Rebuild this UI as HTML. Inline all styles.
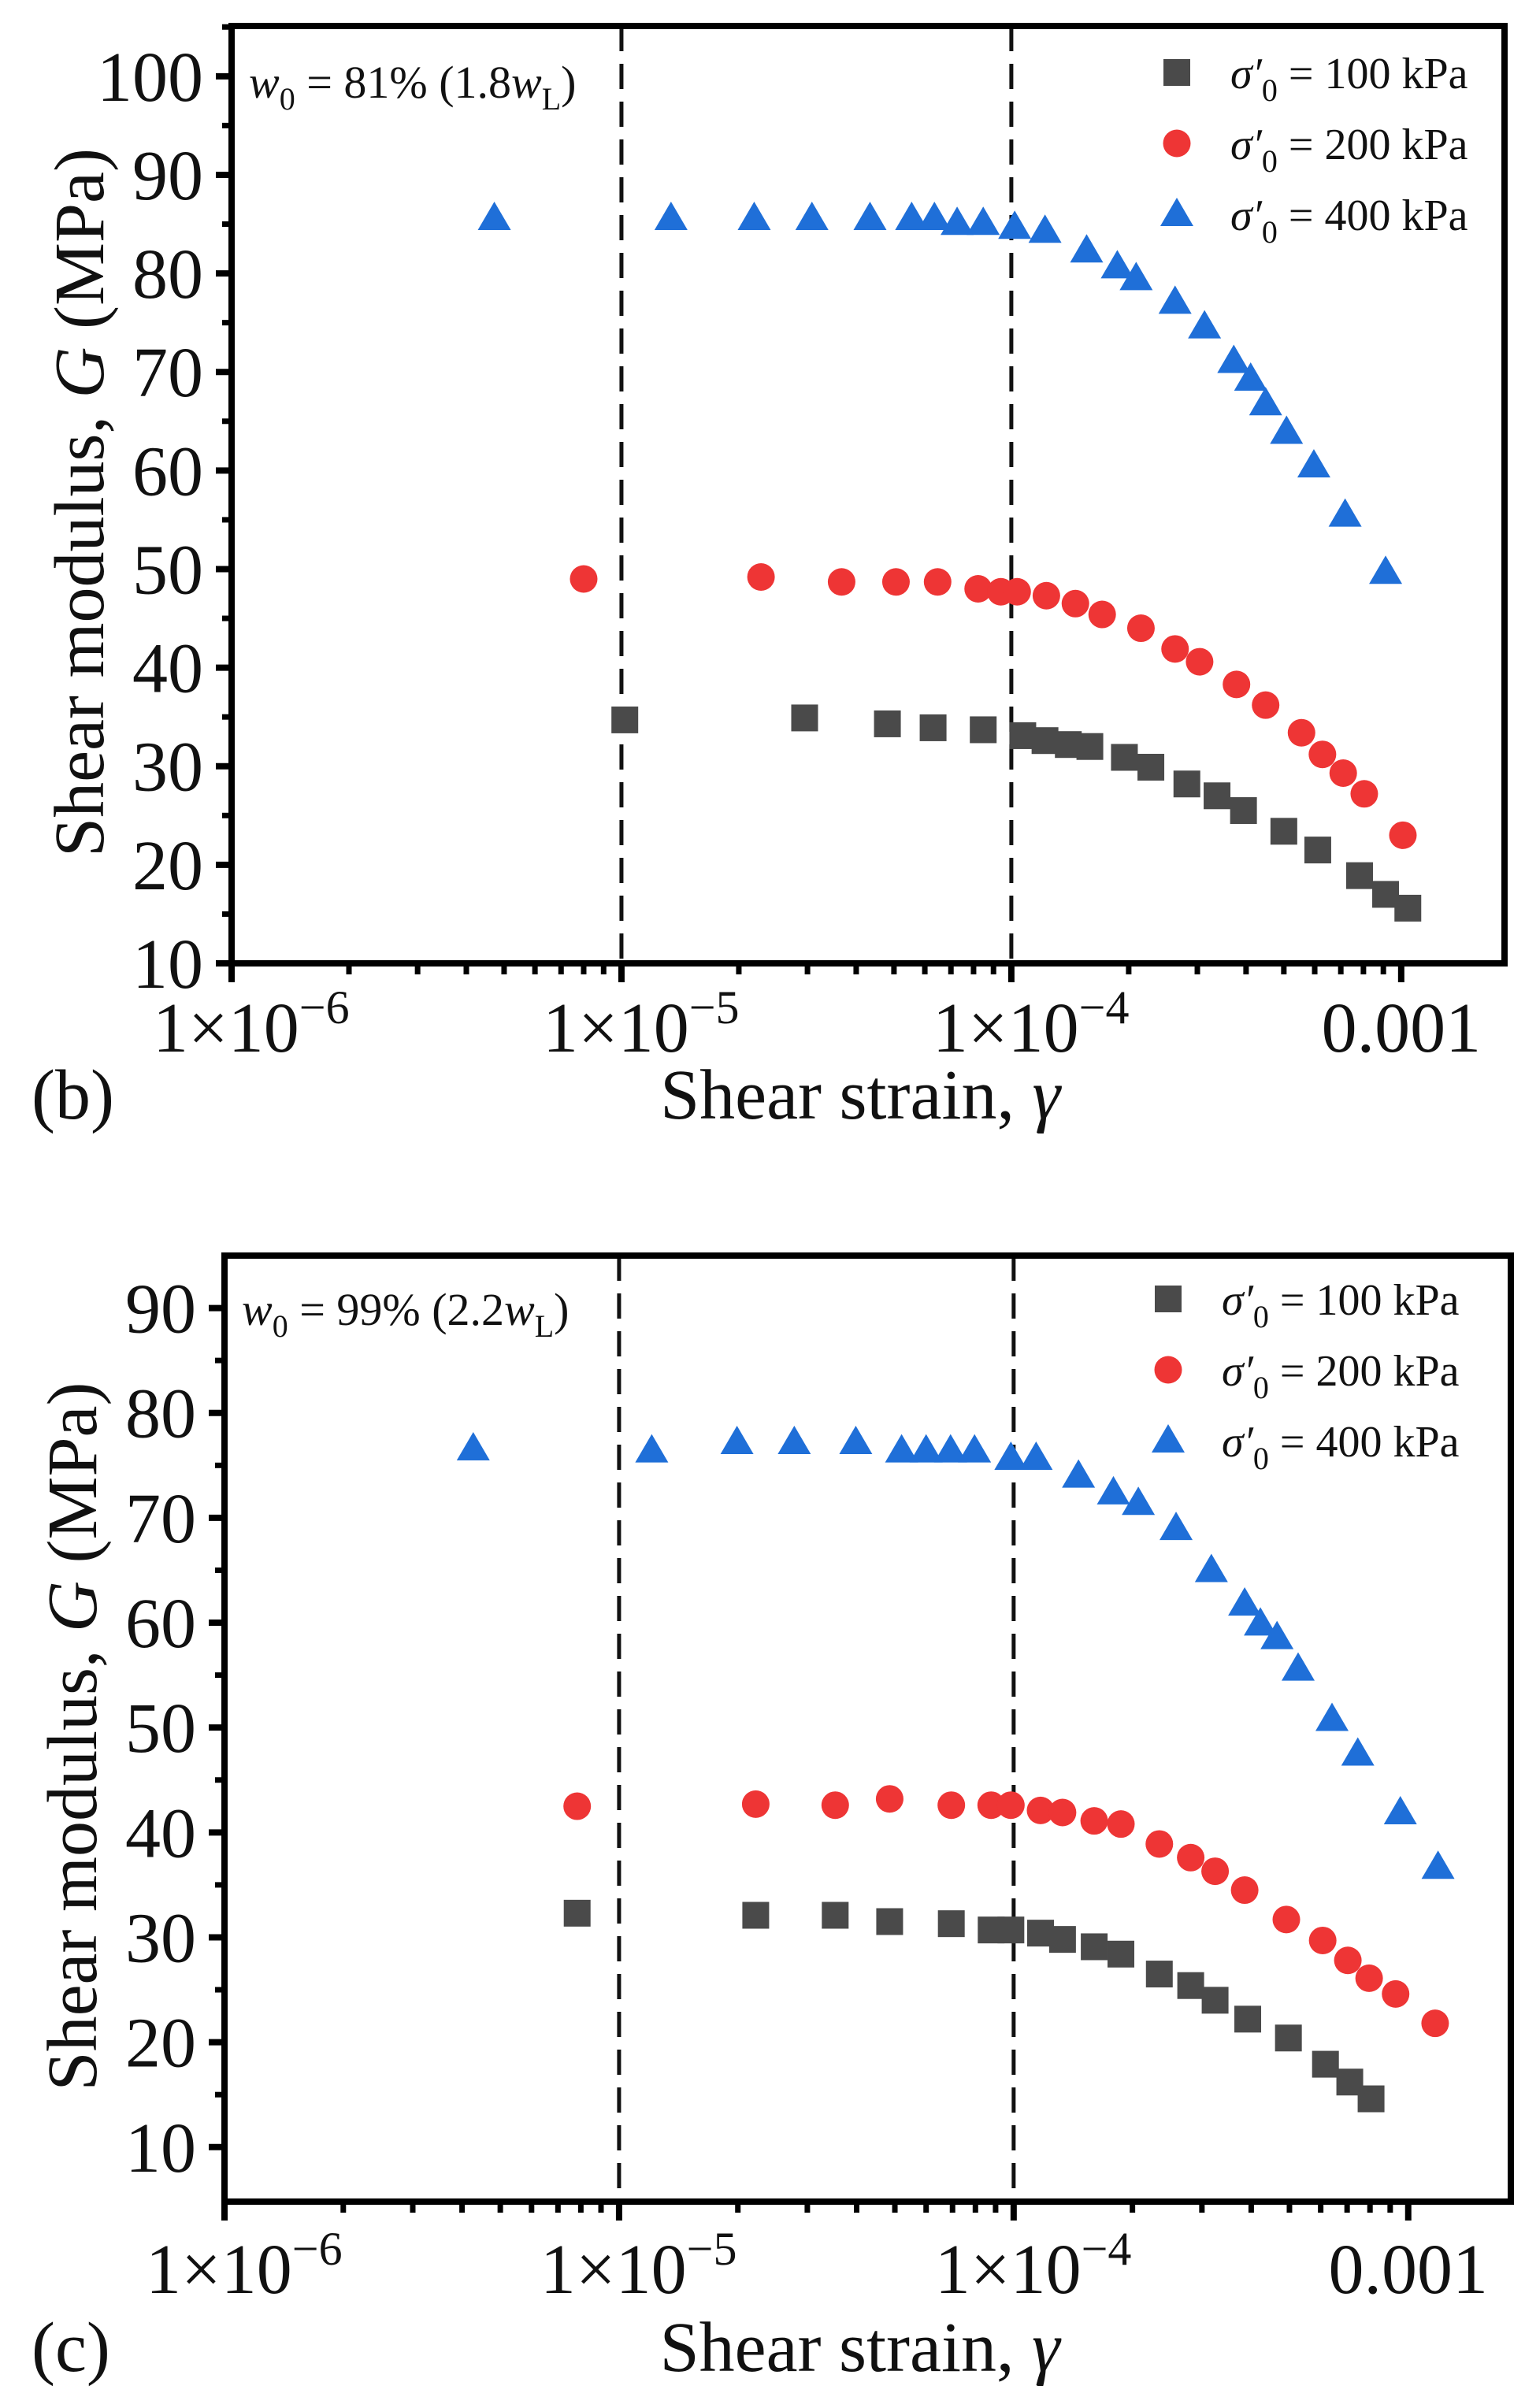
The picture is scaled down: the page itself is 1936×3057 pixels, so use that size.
<!DOCTYPE html>
<html><head><meta charset="utf-8"><style>
html,body{margin:0;padding:0;background:#fff;}
svg{display:block;font-family:"Liberation Serif","Times New Roman",serif;}
</style></head><body>
<svg id="fig" width="1936" height="3057" viewBox="0 0 1936 3057"></svg>
<script>
// ---- Panel (b) data ----
const bBlueX=[4.72e-6,1.34e-5,2.19e-5,3.08e-5,4.34e-5,5.55e-5,6.35e-5,7.26e-5,8.47e-5,1.02e-4,1.22e-4,1.56e-4,1.87e-4,2.09e-4,2.63e-4,3.13e-4,3.72e-4,4.11e-4,4.49e-4,5.08e-4,5.97e-4,7.18e-4,9.12e-4];
const bBlueY=[85.6,85.6,85.6,85.6,85.6,85.6,85.6,85.1,85.1,84.7,84.3,82.3,80.7,79.5,77.1,74.6,71.1,69.3,66.8,63.9,60.5,55.5,49.7];
const bRedX=[8.0e-6,2.28e-5,3.67e-5,5.06e-5,6.47e-5,8.22e-5,9.4e-5,1.035e-4,1.23e-4,1.46e-4,1.71e-4,2.15e-4,2.63e-4,3.04e-4,3.78e-4,4.49e-4,5.55e-4,6.28e-4,7.10e-4,8.04e-4,1.01e-3];
const bRedY=[49.0,49.2,48.7,48.7,48.7,48.0,47.7,47.7,47.3,46.5,45.4,44.0,41.9,40.6,38.3,36.2,33.4,31.2,29.3,27.2,23.0];
const bBlackX=[1.02e-5,2.95e-5,4.81e-5,6.30e-5,8.47e-5,1.07e-4,1.22e-4,1.40e-4,1.59e-4,1.95e-4,2.28e-4,2.82e-4,3.37e-4,3.94e-4,5.0e-4,6.11e-4,7.82e-4,9.12e-4,1.04e-3];
const bBlackY=[34.7,34.9,34.3,33.9,33.7,33.1,32.6,32.2,32.0,30.9,29.9,28.2,27.0,25.5,23.4,21.5,18.9,17.0,15.6];
// ---- Panel (c) data ----
const cBlueX=[4.27e-6,1.21e-5,1.99e-5,2.78e-5,3.98e-5,5.20e-5,6.0e-5,6.92e-5,7.96e-5,9.84e-5,1.14e-4,1.46e-4,1.79e-4,2.07e-4,2.58e-4,3.17e-4,3.85e-4,4.22e-4,4.65e-4,5.26e-4,6.41e-4,7.45e-4,9.55e-4,1.19e-3];
const cBlueY=[76.6,76.4,77.2,77.2,77.2,76.4,76.4,76.4,76.4,75.7,75.7,74.0,72.4,71.4,69.0,65.0,61.8,59.9,58.6,55.6,50.8,47.5,41.9,36.7];
const cRedX=[7.83e-6,2.22e-5,3.53e-5,4.85e-5,6.95e-5,8.77e-5,9.84e-5,1.17e-4,1.33e-4,1.60e-4,1.87e-4,2.34e-4,2.81e-4,3.24e-4,3.85e-4,4.91e-4,6.07e-4,7.03e-4,7.96e-4,9.29e-4,1.17e-3];
const cRedY=[42.5,42.7,42.6,43.2,42.6,42.6,42.6,42.1,41.9,41.1,40.8,38.9,37.6,36.3,34.5,31.7,29.7,27.8,26.1,24.6,21.8];
const cBlackX=[7.83e-6,2.22e-5,3.53e-5,4.85e-5,6.95e-5,8.77e-5,9.84e-5,1.17e-4,1.33e-4,1.60e-4,1.87e-4,2.34e-4,2.81e-4,3.24e-4,3.92e-4,4.97e-4,6.17e-4,7.11e-4,8.05e-4];
const cBlackY=[32.3,32.1,32.1,31.5,31.3,30.7,30.7,30.4,29.8,29.1,28.4,26.5,25.4,24.0,22.2,20.4,17.9,16.2,14.6];
const xTickVals=[1e-6,1e-5,1e-4,1e-3];
const xTickLabels=["1×10","1×10","1×10","0.001"];
const xTickSups=["−6","−5","−4",""];
const bYTicks=[10,20,30,40,50,60,70,80,90,100];
const cYTicks=[10,20,30,40,50,60,70,80,90];
const legendLabels=["100","200","400"];
const dashedAt=[1e-5,1e-4];

const NS="http://www.w3.org/2000/svg";
const svg=document.getElementById('fig');
function mk(tag,attrs,parent){const e=document.createElementNS(NS,tag);for(const k in attrs)e.setAttribute(k,attrs[k]);(parent||svg).appendChild(e);return e;}
const COL={black:"#4a4a4a",red:"#ee3535",blue:"#1f6fd8"};

function marker(g,type,cx,cy){
  let e;
  if(type==="black"){e=mk('rect',{x:cx-17,y:cy-17,width:34,height:34,fill:COL.black},g);}
  else if(type==="red"){e=mk('circle',{cx:cx,cy:cy,r:17.5,fill:COL.red},g);}
  else {e=mk('polygon',{points:`${cx},${cy-21} ${cx+21},${cy+15} ${cx-21},${cy+15}`,fill:COL.blue},g);}
  return e;
}

function panel(p){
  const g=mk('g',{});
  
  
  const lx0=Math.log10(p.xmin),lx1=Math.log10(p.xmax);
  const X=v=>p.L+(Math.log10(v)-lx0)/(lx1-lx0)*(p.R-p.L);
  const Y=v=>p.B-(v-p.ymin)/(p.ymax-p.ymin)*(p.B-p.T);
  dashedAt.forEach((d,i)=>{const l=mk('line',{x1:X(d),x2:X(d),y1:p.T,y2:p.B,stroke:"#111","stroke-width":5,"stroke-dasharray":"32 16"},g);
    
    });
  p.yTicks.forEach(t=>{const y=Y(t);
    mk('line',{x1:p.L-20,x2:p.L,y1:y,y2:y,stroke:"#000","stroke-width":8},g);
    const tx=mk('text',{x:p.L-36,y:y+31,"font-size":90,"text-anchor":"end",fill:"#111"},g);tx.textContent=t;
    
    
    const m=t+5; if(m<p.ymax) {const ym=Y(m);mk('line',{x1:p.L-12,x2:p.L,y1:ym,y2:ym,stroke:"#000","stroke-width":7},g);}
  });
  for(let e=-6;e<=-3;e++){
    for(let k=2;k<=9;k++){const v=k*Math.pow(10,e);if(v<p.xmax){const x=X(v);mk('line',{x1:x,x2:x,y1:p.B,y2:p.B+14,stroke:"#000","stroke-width":7},g);}}
  }
  xTickVals.forEach((v,i)=>{const x=X(v);
    mk('line',{x1:x,x2:x,y1:p.B,y2:p.B+24,stroke:"#000","stroke-width":8},g);
    const tx=mk('text',{x:xTickSups[i]?x-100:x,y:p.B+p.xlabOff,"font-size":90,"text-anchor":xTickSups[i]?"start":"middle",fill:"#111"},g);
    tx.textContent=xTickLabels[i];
    if(xTickSups[i]){const s=mk('tspan',{dy:-36,"font-size":60},tx);s.textContent=xTickSups[i];}
    
    
  });
  const fr=mk('rect',{x:p.L,y:p.T,width:p.R-p.L,height:p.B-p.T,fill:"none",stroke:"#000","stroke-width":8},g);
  
  
  [["black",p.kx,p.ky],["red",p.rx,p.ry],["blue",p.bx,p.by]].forEach(([t,xs,ys])=>{
    const sg=mk('g',{},g);
    
    
    xs.forEach((v,i)=>{const m=marker(sg,t,X(v),Y(ys[i]));
      
      });
  });
  const lg=mk('g',{},g);
  
  
  ["black","red","blue"].forEach((t,i)=>{const yy=p.legY+i*90;
    marker(lg,t,p.legX,yy);
    const tx=mk('text',{x:p.legX+68,y:yy+20,"font-size":56,fill:"#111"},lg);
    const s1=mk('tspan',{"font-style":"italic"},tx);s1.textContent="σ′";
    const s2=mk('tspan',{dy:16,"font-size":40},tx);s2.textContent="0";
    const s3=mk('tspan',{dy:-16},tx);s3.textContent=" = "+legendLabels[i]+" kPa";
    
    
  });
  const an=mk('text',{x:p.L+22,y:p.annY,"font-size":58,fill:"#111"},g);
  
  
  let s=mk('tspan',{"font-style":"italic"},an);s.textContent="w";
  s=mk('tspan',{dy:15,"font-size":40},an);s.textContent="0";
  s=mk('tspan',{dy:-15},an);s.textContent=" = "+p.ann+" ("+p.ann2;
  s=mk('tspan',{"font-style":"italic"},an);s.textContent="w";
  s=mk('tspan',{dy:15,"font-size":40},an);s.textContent="L";
  s=mk('tspan',{dy:-15},an);s.textContent=")";
  const xt=mk('text',{x:(p.L+p.R)/2-10,y:p.B+p.xtitOff,"font-size":90,"text-anchor":"middle",fill:"#111"},g);
  
  
  xt.textContent="Shear strain, ";s=mk('tspan',{"font-style":"italic"},xt);s.textContent="γ";
  const cy=(p.T+p.B)/2+10;
  const yt=mk('text',{x:0,y:0,"font-size":90,"text-anchor":"middle",fill:"#111",transform:`translate(${p.L-163},${cy}) rotate(-90)`},g);
  
  
  yt.appendChild(document.createTextNode("Shear modulus, "));s=mk('tspan',{"font-style":"italic"},yt);s.textContent="G";
  yt.appendChild(document.createTextNode(" (MPa)"));
  const pl=mk('text',{x:40,y:p.B+p.xtitOff,"font-size":90,fill:"#111"},g);
  
  
  pl.textContent="("+p.id+")";
}

panel({id:"b",L:294,R:1910,T:33,B:1223,xmin:1e-6,xmax:Math.pow(10,-2.735),ymin:10,ymax:105.1,yTicks:bYTicks,
  kx:bBlackX,ky:bBlackY,rx:bRedX,ry:bRedY,bx:bBlueX,by:bBlueY,legX:1494,legY:92,annY:124,ann:"81%",ann2:"1.8",xlabOff:112,xtitOff:197});
panel({id:"c",L:285,R:1918,T:1594,B:2795,xmin:1e-6,xmax:Math.pow(10,-2.74),ymin:4.8,ymax:95,yTicks:cYTicks,
  kx:cBlackX,ky:cBlackY,rx:cRedX,ry:cRedY,bx:cBlueX,by:cBlueY,legX:1483,legY:1649,annY:1682,ann:"99%",ann2:"2.2",xlabOff:116,xtitOff:215});
</script>
</body></html>
